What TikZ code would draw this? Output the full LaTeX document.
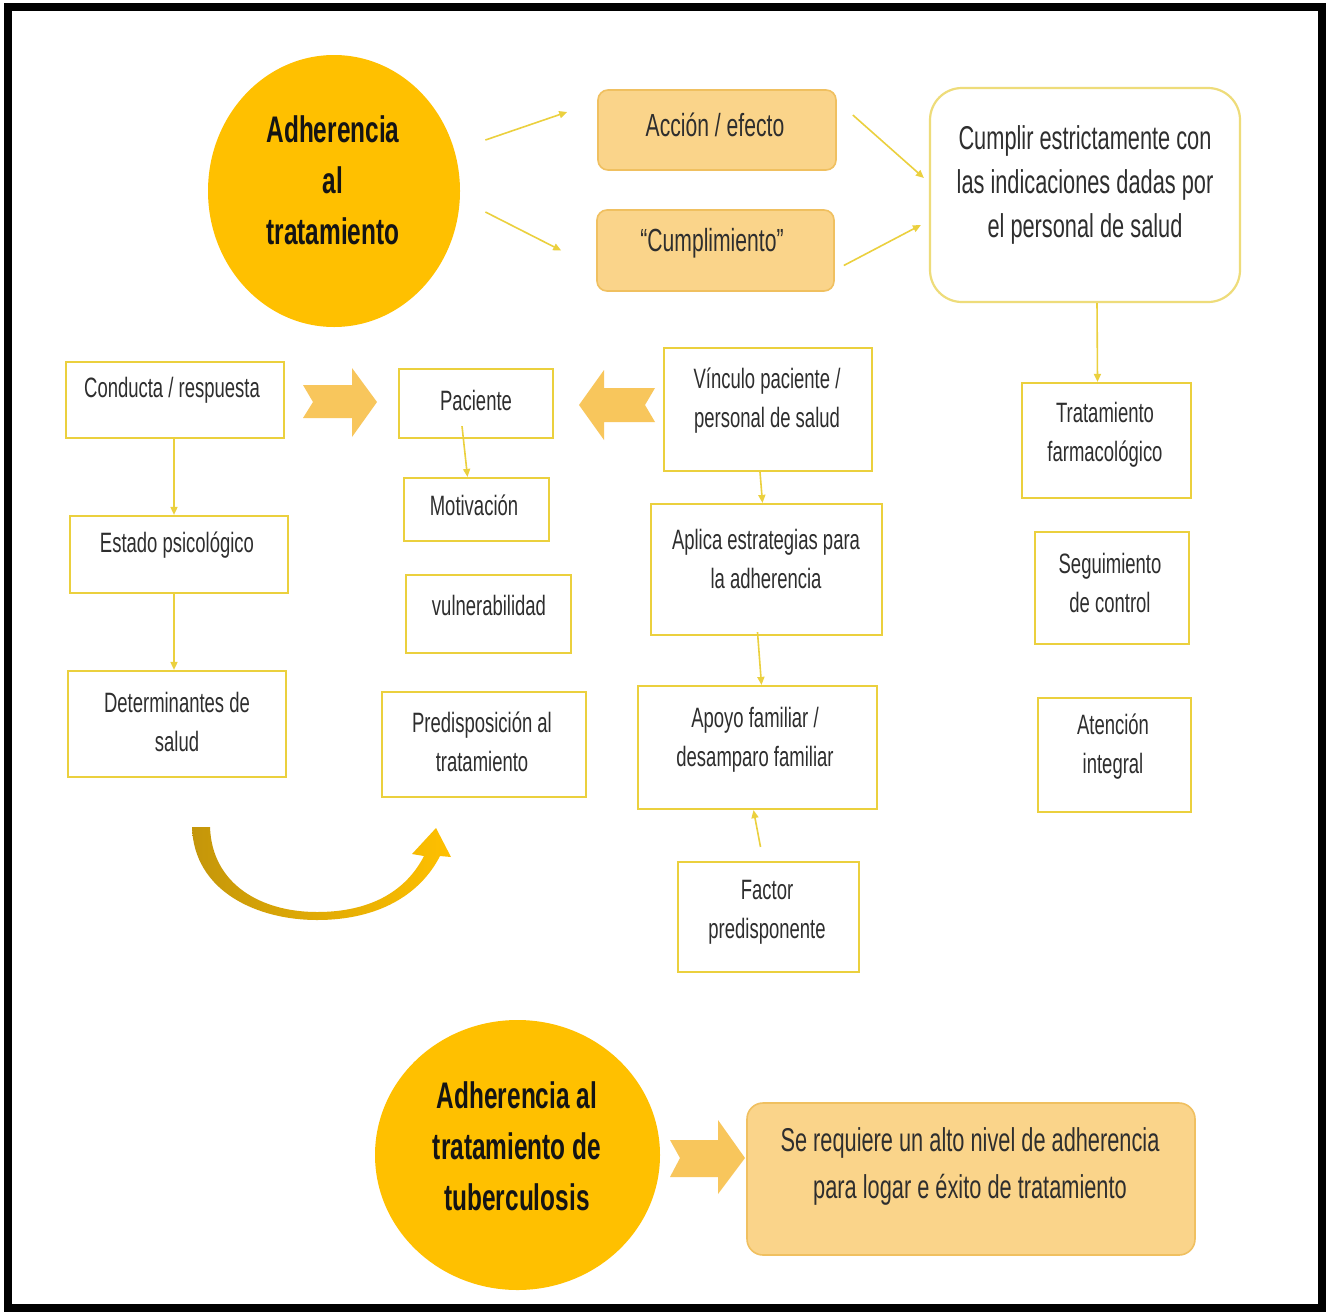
\documentclass[tikz,border=0pt]{standalone}
\usepackage{fontspec}
\setmainfont[FakeStretch=0.66]{Liberation Sans}
\usetikzlibrary{arrows.meta,calc,shapes.geometric}
\definecolor{gold}{HTML}{FFC000}
\definecolor{peach}{HTML}{FAD48A}
\definecolor{peachline}{HTML}{F0C060}
\definecolor{ybord}{HTML}{EBD03E}
\definecolor{palebord}{HTML}{EEDC7A}
\definecolor{blockc}{HTML}{F8C65C}
\definecolor{txtc}{HTML}{2E2E2E}
\definecolor{darkgold}{HTML}{C4960A}
\tikzset{
 ybox/.style={draw=ybord, line width=1.1pt, fill=white, rectangle, inner sep=0pt},
 pbx/.style={draw=peachline, line width=0.8pt, fill=peach, rounded corners=5pt, inner sep=0pt},
 fbx/.style={draw=peachline, line width=0.8pt, fill=peach, rounded corners=8pt, inner sep=0pt},
 wbx/.style={draw=palebord, line width=1.1pt, fill=white, rounded corners=16pt, inner sep=0pt},
 circ/.style={ellipse, fill=gold, inner sep=0pt},
 txt/.style={align=center, text=txtc, font=\fontsize{14pt}{19.5pt}\selectfont, inner sep=0pt},
 mtxt/.style={align=center, text=txtc, font=\fontsize{16.5pt}{22pt}\selectfont, inner sep=0pt},
 btxt/.style={align=center, text=black!92, font=\bfseries\fontsize{18.5pt}{25.5pt}\selectfont, inner sep=0pt},
 arr/.style={draw=ybord, line width=0.8pt, -{Triangle[length=4pt,width=3.5pt]}},
 blk/.style={fill=blockc},
}
\newcommand\mybox[6]{\node[#1, minimum width={0.5pt*(#5-#3)}, minimum height={0.5pt*(#6-#4)}] (#2) at ({(#3+#5)/2},{(#4+#6)/2}) {};}
\begin{document}
\begin{tikzpicture}[x=0.5pt,y=-0.5pt]
\useasboundingbox (0,0) rectangle (1327,1312);
\fill[white] (0,0) rectangle (1327,1312);
\draw[line width=4pt] (8,7) rectangle (1322,1308);

% top circle
\node[circ, minimum width=126pt, minimum height=136pt] (c1) at (334,191) {};
\node[btxt] (c1-t) at (333,180) {Adherencia\\al\\tratamiento};

\mybox{pbx}{acc}{598}{90}{836}{170}
\node[mtxt, font=\fontsize{16pt}{20pt}\selectfont] (acc-t) at (715,125) {Acción / efecto};
\mybox{pbx}{cum}{597}{210}{834}{291}
\node[mtxt, font=\fontsize{16pt}{20pt}\selectfont] (cum-t) at (712,243) {“Cumplimiento”};
\mybox{wbx}{cb}{930}{88}{1240}{302}
\node[mtxt] (cb-t) at (1085,185) {Cumplir estrictamente con\\las indicaciones dadas por\\el personal de salud};

\mybox{ybox}{tf}{1022}{383}{1191}{498}
\node[txt] (tf-t) at (1105,435) {Tratamiento\\farmacológico};
\mybox{ybox}{sc}{1035}{532}{1189}{644}
\node[txt] (sc-t) at (1110,583) {Seguimiento\\de control};
\mybox{ybox}{ai}{1038}{698}{1191}{812}
\node[txt] (ai-t) at (1113,747) {Atención\\integral};

\mybox{ybox}{cr}{66}{362}{284}{438}
\node[txt] (cr-t) at (172,390) {Conducta / respuesta};
\mybox{ybox}{ep}{70}{516}{288}{593}
\node[txt] (ep-t) at (177,545) {Estado psicológico};
\mybox{ybox}{ds}{68}{671}{286}{777}
\node[txt] (ds-t) at (177,722) {Determinantes de\\salud};

\mybox{ybox}{pac}{399}{369}{553}{438}
\node[txt] (pac-t) at (476,400) {Paciente};
\mybox{ybox}{mot}{404}{478}{549}{541}
\node[txt] (mot-t) at (474,505) {Motivación};
\mybox{ybox}{vul}{406}{575}{571}{653}
\node[txt] (vul-t) at (489,605) {vulnerabilidad};
\mybox{ybox}{pre}{382}{692}{586}{797}
\node[txt] (pre-t) at (482,742) {Predisposición al\\tratamiento};

\mybox{ybox}{vin}{664}{348}{872}{471}
\node[txt] (vin-t) at (767,401) {Vínculo paciente /\\personal de salud};
\mybox{ybox}{ape}{651}{504}{882}{635}
\node[txt] (ape-t) at (766,559) {Aplica estrategias para\\la adherencia};
\mybox{ybox}{apo}{638}{686}{877}{809}
\node[txt] (apo-t) at (755,740) {Apoyo familiar /\\desamparo familiar};
\mybox{ybox}{fac}{678}{862}{859}{972}
\node[txt] (fac-t) at (767,912) {Factor\\predisponente};

% thin arrows
\draw[arr] ($(c1.east)+(25,-51)$) -- ($(acc.west)+(-30,-18)$);
\draw[arr] ($(c1.east)+(25,21)$) -- ($(cum.west)+(-35,0)$);
\draw[arr] ($(acc.east)+(16,-15)$) -- ($(cb.west)+(-5,-17)$);
\draw[arr] ($(cum.east)+(9,15)$) -- ($(cb.west)+(-8,30)$);
\draw[arr] ($(cb.south)+(12,0)$) -- ($(tf.north)+(-9,0)$);
\draw[arr] ($(cr.south)+(-1,0)$) -- ($(ep.north)+(-5,0)$);
\draw[arr] ($(ep.south)+(-5,0)$) -- ($(ds.north)+(-3,0)$);
\draw[arr] ($(pac.south)+(-14,-13)$) -- ($(mot.north)+(-9,0)$);
\draw[arr] ($(vin.south)+(-8,0)$) -- ($(ape.north)+(-4,0)$);
\draw[arr] ($(ape.south)+(-9,-4)$) -- ($(apo.north)+(4,0)$);
\draw[arr] ($(fac.north)+(-8,-14)$) -- ($(apo.south)+(-4,0)$);

% block arrows
\fill[blk] (303,385) -- (352,385) -- (352,368) -- (377,402) -- (352,437) -- (352,418) -- (303,418) -- (313,402) -- cycle;
\fill[blk] (655,388) -- (604,388) -- (604,370) -- (579,405) -- (604,440) -- (604,422) -- (655,422) -- (645,405) -- cycle;

% curved arrow
\shade[left color=darkgold, right color=gold] (192,827) .. controls (194,892) and (258,920) .. (317,920) .. controls (378,920) and (420,895) .. (440,856) -- (451,857) -- (436,828) -- (412,854) -- (424,856) .. controls (405,893) and (368,912) .. (317,912) .. controls (262,912) and (212,885) .. (210,827) -- cycle;

% bottom
\node[circ, minimum width=142.5pt, minimum height=135pt] (c2) at (517.5,1155) {};
\node[btxt] (c2-t) at (517,1146) {Adherencia al\\tratamiento de\\tuberculosis};
\fill[blk] (670,1140) -- (718,1140) -- (718,1120) -- (745,1158) -- (718,1194) -- (718,1177) -- (670,1177) -- (680,1158) -- cycle;
\mybox{fbx}{fin}{747}{1103}{1195}{1255}
\node[mtxt, font=\fontsize{16.5pt}{23.5pt}\selectfont] (fin-t) at (970,1166) {Se requiere un alto nivel de adherencia\\para logar e éxito de tratamiento};
\end{tikzpicture}
\end{document}
